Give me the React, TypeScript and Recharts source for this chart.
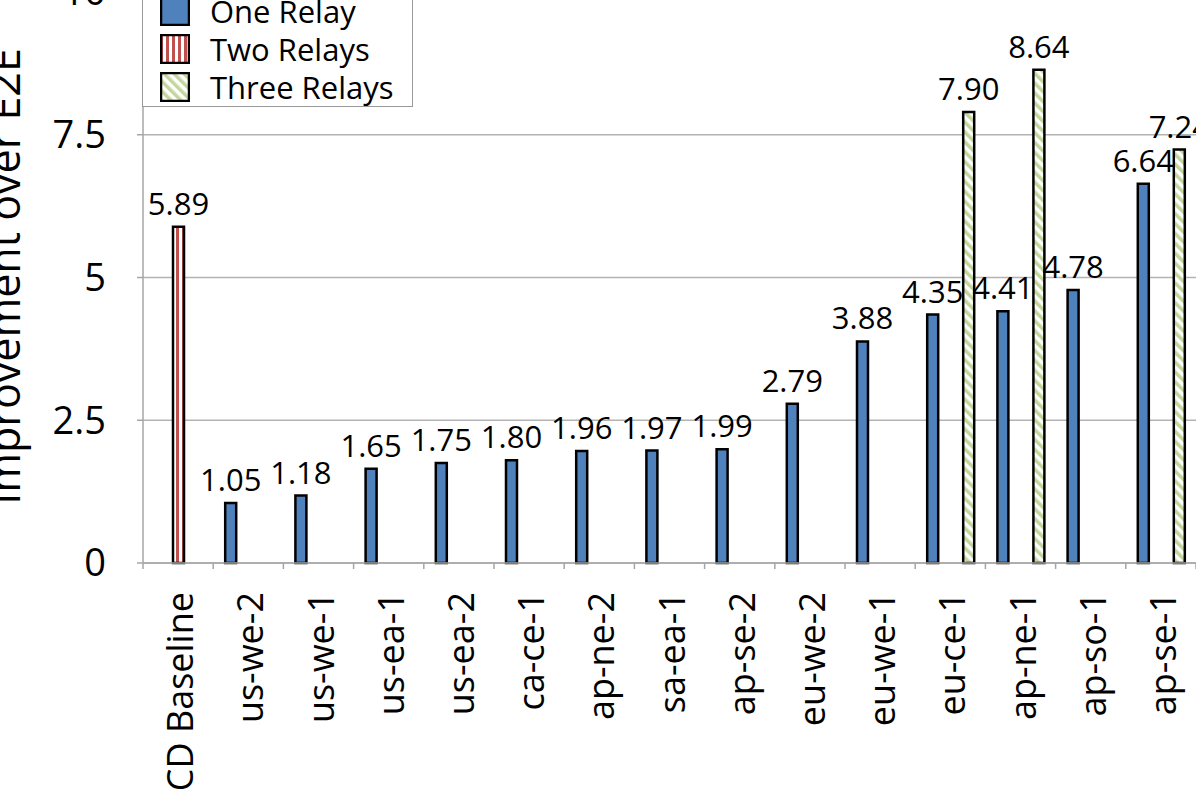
import React from 'react';
import { BarChart, Bar, XAxis, YAxis, CartesianGrid, Legend, LabelList } from 'recharts';

const categories = ['CD Baseline', 'us-we-2', 'us-we-1', 'us-ea-1', 'us-ea-2', 'ca-ce-1', 'ap-ne-2', 'sa-ea-1', 'ap-se-2', 'eu-we-2', 'eu-we-1', 'eu-ce-1', 'ap-ne-1', 'ap-so-1', 'ap-se-1'];
const oneRelay = [null, 1.05, 1.18, 1.65, 1.75, 1.80, 1.96, 1.97, 1.99, 2.79, 3.88, 4.35, 4.41, 4.78, 6.64];
const twoRelays = [5.89, null, null, null, null, null, null, null, null, null, null, null, null, null, null];
const threeRelays = [null, null, null, null, null, null, null, null, null, null, null, 7.90, 8.64, null, 7.24];
const yTicks = [0, 2.5, 5, 7.5, 10];
const seriesNames = ['One Relay', 'Two Relays', 'Three Relays'];

const data = categories.map((c, i) => ({ name: c, one: oneRelay[i], two: twoRelays[i], three: threeRelays[i] }));

const FONT = "'Open Sans', 'Noto Sans', sans-serif";
const BLUE = '#4f81bd';
const RED = '#c0504d';
const GREEN = '#c3d69b';
const AXIS = '#a6a6a6';

const Patterns = ({ prefix }: { prefix: string }) => (
  <defs>
    <pattern id={`${prefix}red`} patternUnits="userSpaceOnUse" width="6" height="6">
      <rect width="6" height="6" fill="#fff" />
      <rect x="0" width="3" height="6" fill={RED} />
    </pattern>
    <pattern id={`${prefix}green`} patternUnits="userSpaceOnUse" width="7" height="7" patternTransform="rotate(-45)">
      <rect width="7" height="7" fill="#fff" />
      <rect x="0" width="3.5" height="7" fill={GREEN} />
    </pattern>
  </defs>
);

const fmt = (v: any) => (v == null ? '' : Number(v).toFixed(2));

const XTick = (props: any) => {
  const { x, y, payload, index } = props;
  const half = payload && payload.offset ? payload.offset : 35.1;
  const isLast = index === categories.length - 1;
  return (
    <g>
      <line x1={x - half} x2={x - half} y1={y} y2={y + 6} stroke={AXIS} strokeWidth={1.5} />
      {isLast && <line x1={x + half} x2={x + half} y1={y} y2={y + 6} stroke={AXIS} strokeWidth={1.5} />}
      <text
        transform={`translate(${x + 15}, ${y + 29}) rotate(-90)`}
        textAnchor="end"
        fontSize={36}
        fill="#000"
        fontFamily={FONT}
      >
        {payload.value}
      </text>
    </g>
  );
};

const YLabel = (props: any) => {
  const vb = props.viewBox || { x: 0, y: 100, width: 183, height: 571 };
  const cx = vb.x + 60;
  const cy = vb.y + vb.height / 2 - 1;
  return (
    <text transform={`translate(${cx}, ${cy}) rotate(-90)`} textAnchor="middle" fontSize={43} fill="#000" fontFamily={FONT}>
      Improvement over E2E
    </text>
  );
};

const LegendBox = () => {
  const fills = [BLUE, 'url(#lgred)', 'url(#lggreen)'];
  return (
    <div
      style={{
        width: 271,
        boxSizing: 'border-box',
        border: '1px solid #999',
        background: '#fff',
        padding: '9px 0 4px 17px',
        fontFamily: FONT,
      }}
    >
      <svg width="0" height="0" style={{ position: 'absolute' }}>
        <Patterns prefix="lg" />
      </svg>
      {seriesNames.map((n, i) => (
        <div key={n} style={{ display: 'flex', alignItems: 'center', height: 30, marginTop: i === 0 ? 0 : 8 }}>
          <svg width="30" height="30" style={{ display: 'block' }}>
            <rect x="1" y="1" width="28" height="28" fill={fills[i]} stroke="#000" strokeWidth="2.5" />
          </svg>
          <span style={{ marginLeft: 20, fontSize: 31, lineHeight: '30px', color: '#000', whiteSpace: 'nowrap' }}>{n}</span>
        </div>
      ))}
    </div>
  );
};

export default function App() {
  return (
    <div style={{ position: 'fixed', left: 0, top: 0, width: 1196, height: 793, overflow: 'hidden', background: '#fff', fontFamily: FONT }}>
      <div style={{ position: 'absolute', left: -40, top: -108 }}>
        <BarChart
          width={1296}
          height={940}
          data={data}
          margin={{ top: 100, right: 60, bottom: 0, left: 0 }}
          barSize={11}
          barGap={7}
        >
          <Patterns prefix="ch" />
          <CartesianGrid vertical={false} stroke="#b3b3b3" strokeWidth={1.5} />
          <XAxis
            dataKey="name"
            height={269}
            interval={0}
            axisLine={{ stroke: AXIS, strokeWidth: 1.5 }}
            tickLine={false}
            tickSize={0}
            tickMargin={0}
            tick={<XTick />}
          />
          <YAxis
            width={183}
            domain={[0, 10]}
            ticks={yTicks}
            interval={0}
            axisLine={{ stroke: AXIS, strokeWidth: 1.5 }}
            tickLine={{ stroke: AXIS, strokeWidth: 1.5 }}
            tickSize={6}
            tickMargin={31}
            tick={{ fontSize: 38, fill: '#000', fontFamily: FONT }}
            label={<YLabel />}
          />
          <Legend
            layout="vertical"
            align="center"
            verticalAlign="middle"
            content={<LegendBox />}
            wrapperStyle={{ left: 182, top: 94, width: 271, height: 'auto' }}
          />
          <Bar dataKey="one" name={seriesNames[0]} fill={BLUE} stroke="#000" strokeWidth={2.5} isAnimationActive={false}>
            <LabelList dataKey="one" position="top" offset={12} formatter={fmt} fontSize={31} fill="#000" fontFamily={FONT} />
          </Bar>
          <Bar dataKey="two" name={seriesNames[1]} fill="url(#chred)" stroke="#000" strokeWidth={2.5} isAnimationActive={false}>
            <LabelList dataKey="two" position="top" offset={12} formatter={fmt} fontSize={31} fill="#000" fontFamily={FONT} />
          </Bar>
          <Bar dataKey="three" name={seriesNames[2]} fill="url(#chgreen)" stroke="#000" strokeWidth={2.5} isAnimationActive={false}>
            <LabelList dataKey="three" position="top" offset={12} formatter={fmt} fontSize={31} fill="#000" fontFamily={FONT} />
          </Bar>
        </BarChart>
      </div>
    </div>
  );
}
